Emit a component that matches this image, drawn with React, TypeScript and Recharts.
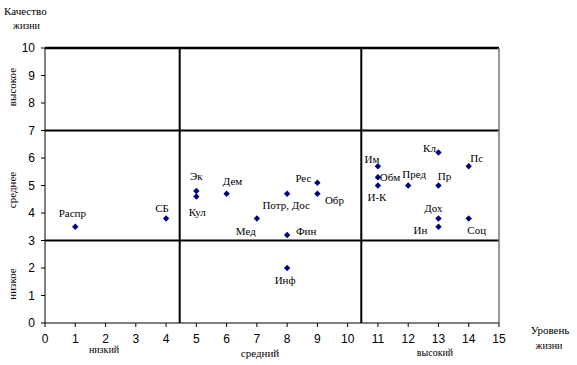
import React from "react";
import { ScatterChart, Scatter, XAxis, YAxis, ReferenceLine } from "recharts";

// показатели: уровень жизни (x) и качество жизни (y)
const names = [
  "Распр", "СБ", "Эк", "Кул", "Дем", "Потр, Дос", "Мед", "Фин", "Инф", "Рес", "Обр",
  "Им", "Обм", "И-К", "Пред", "Кл", "Пр", "Пс", "Дох", "Ин", "Соц",
];
const levels = [1, 4, 5, 5, 6, 8, 7, 8, 8, 9, 9, 11, 11, 11, 12, 13, 13, 14, 13, 13, 14];
const quality = [3.5, 3.8, 4.8, 4.6, 4.7, 4.7, 3.8, 3.2, 2.0, 5.1, 4.7, 5.7, 5.3, 5.0, 5.0, 6.2, 5.0, 5.7, 3.8, 3.5, 3.8];

const xTicks = [0, 1, 2, 3, 4, 5, 6, 7, 8, 9, 10, 11, 12, 13, 14, 15];
const yTicks = [0, 1, 2, 3, 4, 5, 6, 7, 8, 9, 10];
const xBounds = [4.45, 10.45];
const yBounds = [3, 7];

// смещения подписей относительно точки
const labelOffset: Record<string, [number, number]> = {
  "Распр": [-3, -14],
  "СБ": [-4, -11],
  "Эк": [0, -15],
  "Кул": [1, 15],
  "Дем": [6, -13],
  "Потр, Дос": [-1, 11],
  "Мед": [-11, 12],
  "Фин": [19, -4],
  "Инф": [-2, 12],
  "Рес": [-14, -5],
  "Обр": [17, 6],
  "Им": [-6, -7],
  "Обм": [12, 0],
  "И-К": [-1, 11],
  "Пред": [6, -12],
  "Кл": [-9, -5],
  "Пр": [6, -10],
  "Пс": [8, -8],
  "Дох": [-5, -11],
  "Ин": [-18, 3],
  "Соц": [8, 11],
};

const rows = names.map((name, i) => ({ name, x: levels[i], y: quality[i] }));

const SERIF = "'Liberation Serif', 'Times New Roman', serif";
const SANS = "'Liberation Sans', Arial, sans-serif";

function Point(props: any) {
  const { cx, cy, payload } = props;
  const s = 3.2;
  const [dx, dy] = labelOffset[payload.name] || [0, -10];
  return (
    <g>
      <polygon
        points={`${cx},${cy - s} ${cx + s},${cy} ${cx},${cy + s} ${cx - s},${cy}`}
        fill="#000080"
      />
      <text
        x={cx + dx}
        y={cy + dy}
        textAnchor="middle"
        dominantBaseline="central"
        fontFamily={SERIF}
        fontSize={11}
        fill="#000"
      >
        {payload.name}
      </text>
    </g>
  );
}

const note = (style: React.CSSProperties): React.CSSProperties => ({
  position: "absolute",
  fontFamily: SERIF,
  fontSize: 11,
  color: "#000",
  whiteSpace: "nowrap",
  lineHeight: "12px",
  ...style,
});

export default function App() {
  return (
    <div style={{ position: "absolute", left: 0, top: 0, width: 577, height: 365, background: "#fff" }}>
      <ScatterChart width={577} height={365} margin={{ top: 48, right: 78, bottom: 0, left: 0 }}>
        <XAxis
          type="number"
          dataKey="x"
          domain={[0, 15]}
          ticks={xTicks}
          interval={0}
          tickSize={4}
          tickMargin={7}
          axisLine={{ stroke: "#000" }}
          tickLine={{ stroke: "#000" }}
          tick={{ fontFamily: SANS, fontSize: 12, fill: "#000" }}
          height={42}
        />
        <YAxis
          type="number"
          dataKey="y"
          domain={[0, 10]}
          ticks={yTicks}
          interval={0}
          tickSize={4}
          tickMargin={6}
          axisLine={{ stroke: "#000" }}
          tickLine={{ stroke: "#000" }}
          tick={{ fontFamily: SANS, fontSize: 12, fill: "#000" }}
          width={45}
        />
        {yBounds.map((v) => (
          <ReferenceLine key={"h" + v} y={v} stroke="#000" strokeWidth={2} />
        ))}
        <ReferenceLine y={10} stroke="#000" strokeWidth={2.5} />
        <ReferenceLine x={15} stroke="#777" strokeWidth={1.5} />
        {xBounds.map((v) => (
          <ReferenceLine key={"v" + v} x={v} stroke="#000" strokeWidth={2} />
        ))}
        <Scatter data={rows} shape={<Point />} isAnimationActive={false} />
      </ScatterChart>

      <div style={note({ left: 4, top: 5 })}>Качество</div>
      <div style={note({ left: 13, top: 20, fontSize: 10 })}>жизни</div>

      <div style={note({ left: 12, top: 87, transform: "translate(-50%, -50%) rotate(-90deg)" })}>высокое</div>
      <div style={note({ left: 12, top: 190, transform: "translate(-50%, -50%) rotate(-90deg)" })}>среднее</div>
      <div style={note({ left: 12, top: 284, transform: "translate(-50%, -50%) rotate(-90deg)" })}>низкое</div>

      <div style={note({ left: 104, top: 350, transform: "translate(-50%, -50%)", fontSize: 10 })}>низкий</div>
      <div style={note({ left: 260, top: 353, transform: "translate(-50%, -50%)" })}>средний</div>
      <div style={note({ left: 435, top: 353, transform: "translate(-50%, -50%)", fontSize: 10 })}>высокий</div>

      <div style={note({ left: 550, top: 330, transform: "translate(-50%, -50%)" })}>Уровень</div>
      <div style={note({ left: 549, top: 346, transform: "translate(-50%, -50%)", fontSize: 10 })}>жизни</div>
    </div>
  );
}
